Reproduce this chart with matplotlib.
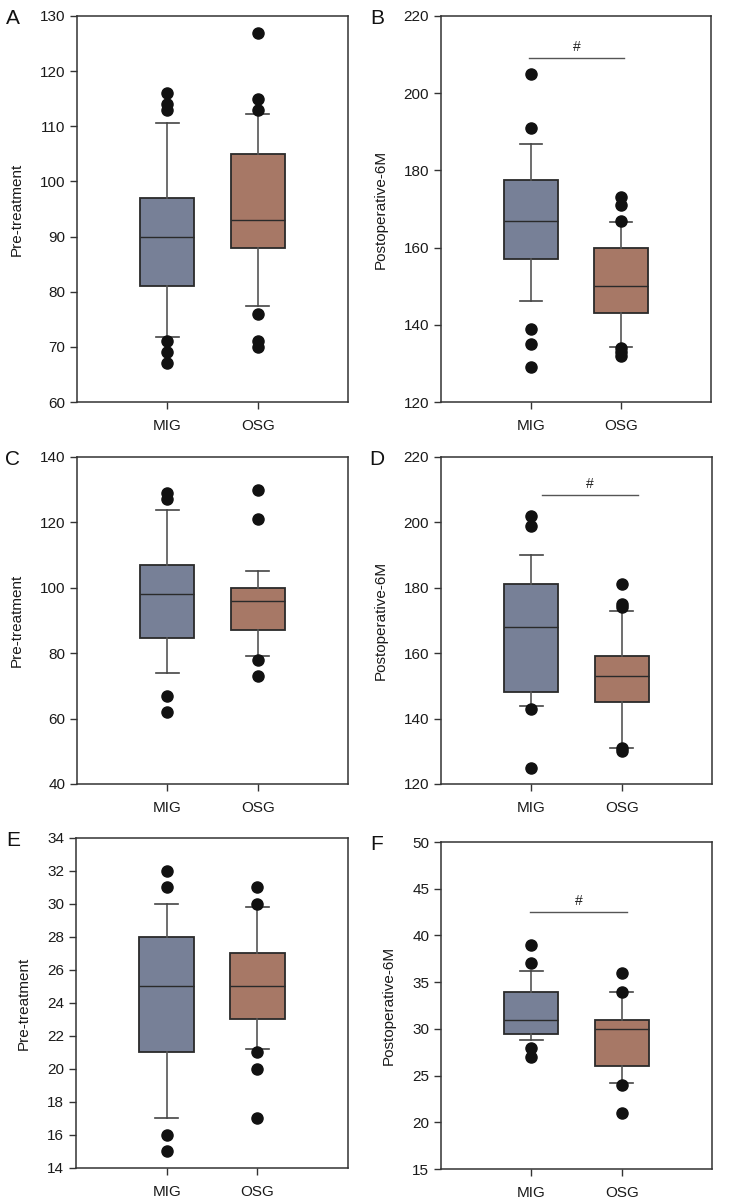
import matplotlib
matplotlib.use("Agg")
import matplotlib.pyplot as plt

plt.rcParams['font.family'] = ['Liberation Sans', 'DejaVu Sans']

groups = ["MIG", "OSG"]
colors = ("#778097", "#a77866")

# per panel: (q1, median, q3, whisker low, whisker high, fliers) for MIG and OSG
A_mig = (81, 90, 97, 71.8, 110.6, [116, 114, 113, 71, 69, 67])
A_osg = (88, 93, 105, 77.4, 112.2, [127, 115, 113, 76, 71, 70])
B_mig = (157, 167, 177.4, 146.2, 186.9, [205, 191, 139, 135, 129])
B_osg = (143, 150, 160, 134.2, 166.5, [173, 171, 167, 134, 133, 132])
C_mig = (84.5, 98, 107, 74, 123.9, [129, 127, 67, 62])
C_osg = (87, 96, 100, 79, 105, [130, 121, 78, 73])
D_mig = (148, 168, 181, 143.8, 190, [202, 199, 143, 125])
D_osg = (145, 153, 159, 131.1, 172.9, [181, 175, 174, 131, 130])
E_mig = (21, 25, 28, 17, 30, [32, 31, 16, 15])
E_osg = (23, 25, 27, 21.2, 29.8, [31, 30, 21, 20, 17])
F_mig = (29.5, 31, 34, 28.8, 36.2, [39, 37, 28, 27])
F_osg = (26, 30, 31, 24.2, 33.9, [36, 34, 24, 21])

panel_letters = ["A", "B", "C", "D", "E", "F"]
ylabels = ["Pre-treatment", "Postoperative-6M"] * 3
ylims = [(60, 130), (120, 220), (40, 140), (120, 220), (14, 34), (15, 50)]
ysteps = [10, 20, 20, 20, 2, 5]
data = [(A_mig, A_osg), (B_mig, B_osg), (C_mig, C_osg),
        (D_mig, D_osg), (E_mig, E_osg), (F_mig, F_osg)]
# significance bars: (x start, x end, y)
sig = {1: (0.98, 2.03, 209), 3: (1.12, 2.18, 208.5), 5: (0.99, 2.06, 42.5)}

# axes rectangles in figure fractions
rects = [(0.1056, 0.665, 0.3717, 0.3217), (0.605, 0.665, 0.3704, 0.3217),
         (0.1056, 0.3467, 0.3717, 0.2725), (0.605, 0.3467, 0.3717, 0.2725),
         (0.1043, 0.0267, 0.3731, 0.275), (0.605, 0.0258, 0.3717, 0.2725)]
label_x = [-0.196, -0.196, -0.196, -0.196, -0.165, -0.166]

fig = plt.figure(figsize=(7.29, 12), dpi=100)

for i in range(6):
    ax = fig.add_axes(rects[i])
    stats = []
    for g, d in zip(groups, data[i]):
        q1, med, q3, lo, hi, fl = d
        stats.append(dict(label=g, q1=q1, med=med, q3=q3, whislo=lo, whishi=hi, fliers=fl))
    bp = ax.bxp(stats, positions=[1, 2], widths=0.6, patch_artist=True, capwidths=0.25,
                boxprops=dict(edgecolor="#2a2a2a", linewidth=1.3),
                medianprops=dict(color="#2a2a2a", linewidth=1.0),
                whiskerprops=dict(color="#555555", linewidth=1.2),
                capprops=dict(color="#444444", linewidth=1.2),
                flierprops=dict(marker="o", markerfacecolor="#111111", markeredgecolor="#111111",
                                markersize=8))
    for patch, c in zip(bp["boxes"], colors):
        patch.set_facecolor(c)

    ax.set_xlim(0, 3)
    ax.set_ylim(*ylims[i])
    lo, hi = ylims[i]
    ax.set_yticks(range(lo, hi + 1, ysteps[i]))
    ax.set_xticks([1, 2])
    ax.set_xticklabels(groups)
    ax.tick_params(direction="out", length=5, width=1, colors="#333333", labelcolor="#1a1a1a",
                   labelsize=11, top=False, right=False)
    ax.tick_params(axis="x", pad=7)
    for s in ax.spines.values():
        s.set_color("#333333")
        s.set_linewidth(1.1)
    ax.set_ylabel(ylabels[i], fontsize=11, color="#1a1a1a")
    ax.yaxis.set_label_coords(label_x[i], 0.5)

    if i in sig:
        x0, x1, y = sig[i]
        ax.plot([x0, x1], [y, y], color="#555555", linewidth=1)
        ax.text((x0 + x1) / 2, y + (hi - lo) * 0.012, "#", ha="center", va="bottom",
                fontsize=10, color="#222222")

    x_letter = 13 / 729 if i % 2 == 0 else 377 / 729
    y_top = rects[i][1] + rects[i][3]
    fig.text(x_letter, y_top - 0.002, panel_letters[i], fontsize=15, ha="center", va="center",
             color="#111111")

fig.savefig("out.png", dpi=100)
